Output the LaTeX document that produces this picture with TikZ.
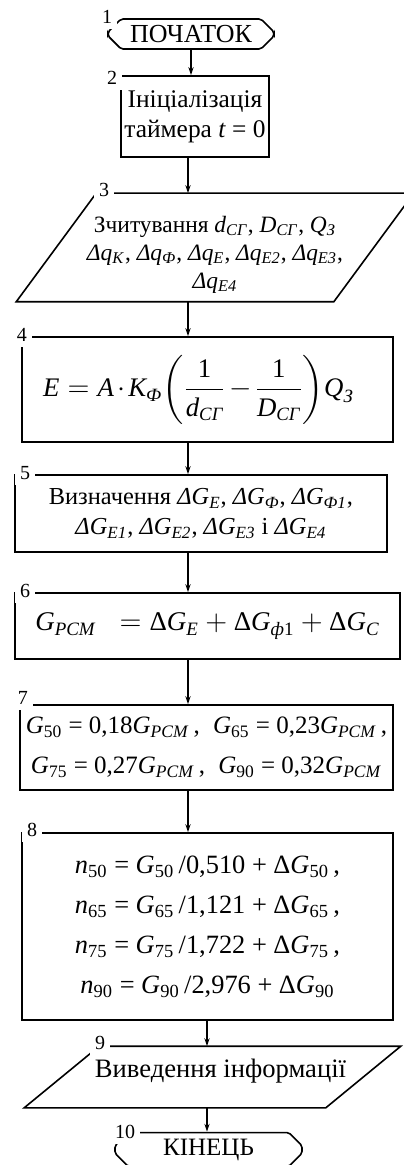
\documentclass[tikz,border=0pt]{standalone}
\usepackage{amsmath}
\usepackage{fontspec}
\setmainfont{Liberation Serif}
\usetikzlibrary{shapes.misc,arrows.meta,calc}
\newcommand{\sbi}[1]{\textsubscript{\textit{#1}}}
\tikzset{
  term/.style={
    shape = chamfered rectangle,
    chamfered rectangle xsep = 3.5pt,
    draw,
    rounded corners = 1pt,
    inner sep = 0pt
  },
  proc/.style={
    draw,
    inner sep = 0pt,
    align = center
  },
  io/.style={
    inner sep = 0pt
  },
  num/.style={
    fill = white,
    inner sep = 2.5pt,
    font = \fontsize{10}{12}\selectfont
  },
  arr/.style={
    -{Stealth[length=4pt,width=2.6pt]}
  },
  every picture/.style = {
    x = 0.5pt,
    y = -0.5pt,
    line width = 0.8pt
  }
}
\begin{document}
\begin{tikzpicture}
  \useasboundingbox (0,0) rectangle (403,1165);
  \coordinate (ax) at (188,0);
  \coordinate (ay) at (207,0);
  % blocks
  \node[term, minimum width=83pt, minimum height=15pt,
        font=\fontsize{13}{15}\selectfont] (b1) at (191,34) {ПОЧАТОК};
  \node[proc, minimum width=74pt, minimum height=40.5pt,
        font=\fontsize{12.7}{15}\selectfont] (b2) at (195,116.5)
    {Ініціалізація\\таймера \textit{t} = 0};
  \node[io, minimum width=198pt, minimum height=53.5pt] (b3) at (215,247.5) {};
  \draw (b3.south west) -- ($(b3.north west)+(80,0)$) -- (b3.north east)
    -- ($(b3.south east)-(80,0)$) -- cycle;
  \node[align=center, inner sep=0pt, font=\fontsize{11.7}{14}\selectfont]
    (t3) at ([yshift=-3.5pt]b3.center)
    {Зчитування \textit{d}\sbi{СГ}, \textit{D}\sbi{СГ}, \textit{Q}\sbi{З}\\
     \textit{Δq}\sbi{К}, \textit{Δq}\sbi{Ф}, \textit{Δq}\sbi{Е}, \textit{Δq}\sbi{Е2}, \textit{Δq}\sbi{Е3},\\
     \textit{Δq}\sbi{Е4}};
  \node[proc, minimum width=185.5pt, minimum height=52.5pt,
        font=\fontsize{13.4}{16}\selectfont] (b4) at (207.5,389.5)
    {$\medmuskip=2mu \textit{E} = \textit{A}\cdot \textit{K}_{\textit{Ф}}
      \!\left(\dfrac{\text{1}}{\textit{d}_{\textit{СГ}}}-\dfrac{\text{1}}{\textit{D}_{\textit{СГ}}}\right)\!\textit{Q}_{\textit{З}}$\hspace*{9pt}};
  \node[proc, minimum width=186pt, minimum height=38.5pt,
        font=\fontsize{12.2}{15}\selectfont] (b5) at (201,513.5)
    {Визначення \textit{ΔG}\sbi{Е}, \textit{ΔG}\sbi{Ф}, \textit{ΔG}\sbi{Ф1},\\
     \textit{ΔG}\sbi{Е1}, \textit{ΔG}\sbi{Е2}, \textit{ΔG}\sbi{Е3} і \textit{ΔG}\sbi{Е4}};
  \node[proc, minimum width=192.5pt, minimum height=33pt,
        font=\fontsize{13.5}{16}\selectfont] (b6) at (207.5,626)
    {$\textit{G}_{\textit{PCM}}\;\;= \text{Δ}\textit{G}_{\textit{E}} + \text{Δ}\textit{G}_{\textit{ф}\text{1}} + \text{Δ}\textit{G}_{\textit{C}}$};
  \node[proc, minimum width=186.5pt, minimum height=42.5pt,
        font=\fontsize{12.5}{20}\selectfont] (b7) at (206.5,747.5)
    {\textit{G}\textsubscript{50} = 0,18\textit{G}\sbi{PCM}\,,\; \textit{G}\textsubscript{65} = 0,23\textit{G}\sbi{PCM}\,,\\
     \textit{G}\textsubscript{75} = 0,27\textit{G}\sbi{PCM}\,,\; \textit{G}\textsubscript{90} = 0,32\textit{G}\sbi{PCM}};
  \node[proc, minimum width=185.5pt, minimum height=93.5pt,
        font=\fontsize{13.2}{20}\selectfont] (b8) at (207.5,926.5)
    {\textit{n}\textsubscript{50} = \textit{G}\textsubscript{50}\,/0,510 + Δ\textit{G}\textsubscript{50}\,,\\
     \textit{n}\textsubscript{65} = \textit{G}\textsubscript{65}\,/1,121 + Δ\textit{G}\textsubscript{65}\,,\\
     \textit{n}\textsubscript{75} = \textit{G}\textsubscript{75}\,/1,722 + Δ\textit{G}\textsubscript{75}\,,\\
     \textit{n}\textsubscript{90} = \textit{G}\textsubscript{90}\,/2,976 + Δ\textit{G}\textsubscript{90}};
  \node[io, minimum width=187.5pt, minimum height=30pt] (b9) at (212.5,1077) {};
  \draw (b9.south west) -- ($(b9.north west)+(75,0)$) -- (b9.north east)
    -- ($(b9.south east)-(75,0)$) -- cycle;
  \node[inner sep=0pt, font=\fontsize{13.3}{15}\selectfont]
    (t9) at ([xshift=4pt,yshift=3pt]b9.center) {Виведення інформації};
  \node[term, minimum width=93.5pt, minimum height=14.5pt,
        font=\fontsize{12.5}{15}\selectfont] (b10) at (208.5,1149.5) {КІНЕЦЬ};
  % block numbers
  \node[num] (n1) at (107,17) {1};
  \node[num] (n2) at (112,78) {2};
  \node[num] (n3) at (104,190) {3};
  \node[num] (n4) at (22,335) {4};
  \node[num] (n5) at (25,473) {5};
  \node[num] (n6) at (25,591) {6};
  \node[num] (n7) at (23,698) {7};
  \node[num] (n8) at (32,830) {8};
  \node[num] (n9) at (100,1043) {9};
  \node[num] (n10) at (125,1132) {10};
  % arrows
  \draw[arr] (b1.south) -- (b1.south |- b2.north);
  \foreach \a/\b in {b2/b3,b3/b4,b4/b5,b5/b6,b6/b7,b7/b8}{
    \draw[arr] (\a.south -| ax) -- (\b.north -| ax);
  }
  \draw[arr] (b8.south -| ay) -- (b9.north -| ay);
  \draw[arr] (b9.south -| ay) -- (b10.north -| ay);
\end{tikzpicture}
\end{document}
